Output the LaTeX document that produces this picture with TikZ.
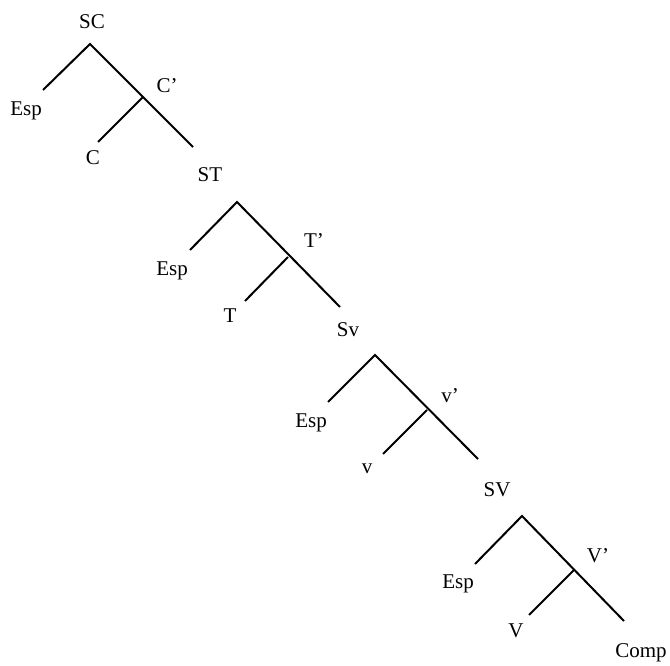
\documentclass[tikz,border=0pt]{standalone}
\usepackage{fontspec}
\setmainfont{Liberation Serif}
\begin{document}
\begin{tikzpicture}[x=1pt,y=-1pt,
  lbl/.style={font=\fontsize{21}{24}\selectfont, inner sep=0pt, anchor=center},
  branch/.style={line width=2pt}]
\useasboundingbox (0,0) rectangle (670,666);
% Block 1
\coordinate (a1) at (90,44); \coordinate (l1) at (43,90); \coordinate (j1) at (143,97);
\coordinate (c1) at (98,142); \coordinate (r1) at (193,147);
\node[lbl] (SC) at (92,22) {SC};
\node[lbl] (esp1) at (26,111) {Esp};
\node[lbl] (Cb) at (167,86) {C’};
\node[lbl] (C) at (93,158) {C};
\node[lbl] (ST) at (210,175) {ST};
\draw[branch] (l1) -- (a1) -- (r1);
\draw[branch] (c1) -- (j1);
% Block 2
\coordinate (a2) at (237,202); \coordinate (l2) at (190,250); \coordinate (j2) at (288,257);
\coordinate (c2) at (245,301); \coordinate (r2) at (340,307);
\node[lbl] (esp2) at (172,271) {Esp};
\node[lbl] (Tb) at (314,241) {T’};
\node[lbl] (T) at (230,316) {T};
\node[lbl] (Sv) at (348,330) {Sv};
\draw[branch] (l2) -- (a2) -- (r2);
\draw[branch] (c2) -- (j2);
% Block 3
\coordinate (a3) at (375,355); \coordinate (l3) at (328,402); \coordinate (j3) at (427,410);
\coordinate (c3) at (383,454); \coordinate (r3) at (478,459);
\node[lbl] (esp3) at (311,423) {Esp};
\node[lbl] (vb) at (450,396) {v’};
\node[lbl] (v) at (367,469) {v};
\node[lbl] (SV) at (497,490) {SV};
\draw[branch] (l3) -- (a3) -- (r3);
\draw[branch] (c3) -- (j3);
% Block 4
\coordinate (a4) at (522,516); \coordinate (l4) at (475,564); \coordinate (j4) at (574,570);
\coordinate (c4) at (529,615); \coordinate (r4) at (624,621);
\node[lbl] (esp4) at (458,584) {Esp};
\node[lbl] (Vb) at (598,556) {V’};
\node[lbl] (V) at (516,631) {V};
\node[lbl] (Comp) at (641,653) {Comp};
\draw[branch] (l4) -- (a4) -- (r4);
\draw[branch] (c4) -- (j4);
\end{tikzpicture}
\end{document}
